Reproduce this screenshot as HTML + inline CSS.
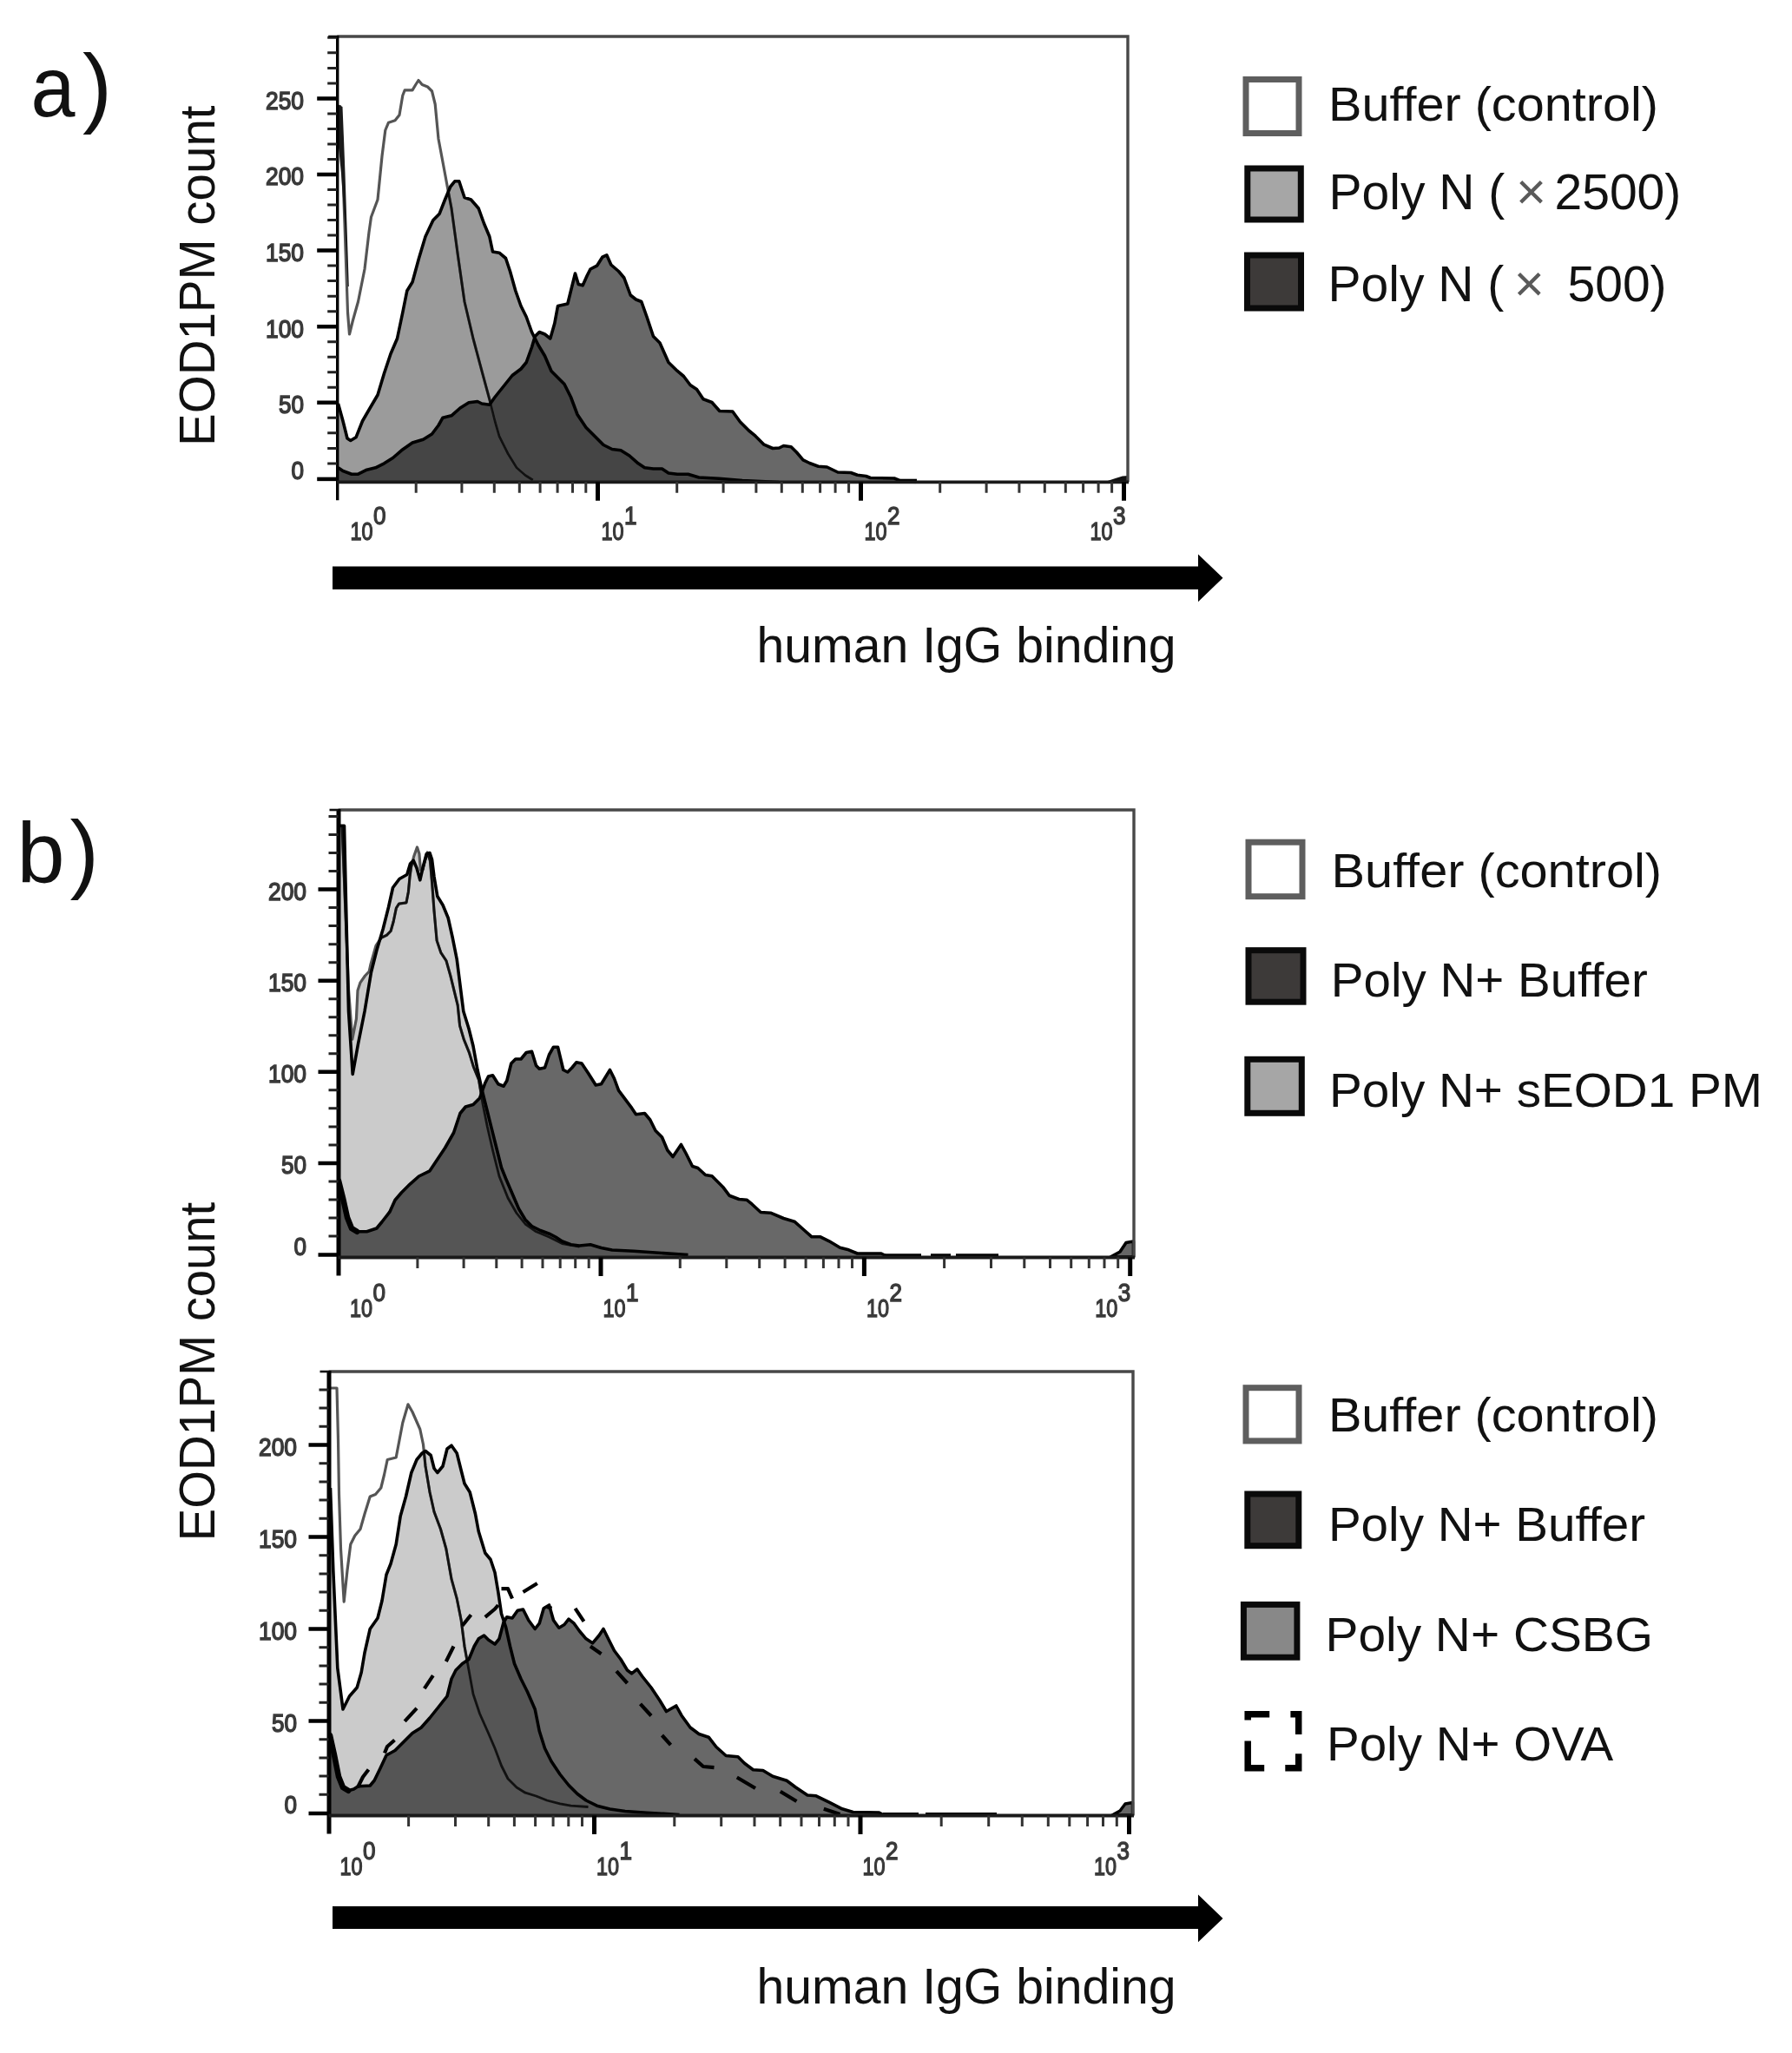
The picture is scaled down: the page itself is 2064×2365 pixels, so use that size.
<!DOCTYPE html>
<html lang="en"><head><meta charset="utf-8"><title>Figure</title>
<style>
html,body{margin:0;padding:0;background:#fff;}
svg{display:block;filter:blur(0.6px);font-family:"Liberation Sans",Arial,Helvetica,sans-serif;}
text{white-space:pre;}
</style></head><body>
<svg width="2064" height="2365" viewBox="0 0 2064 2365">
<rect width="2064" height="2365" fill="#fff"/>

<g id="chart-a">
<clipPath id="clipd-a"><path d="M388.2,555.3 L389.5,538.8 L395.0,542.5 L405.0,546.2 L412.5,546.2 L422.5,541.2 L432.5,538.8 L442.5,533.8 L452.5,527.5 L462.5,518.8 L475.0,510.0 L487.5,506.2 L497.5,500.0 L505.0,490.0 L510.0,481.2 L520.0,478.8 L530.0,470.0 L540.0,463.8 L550.0,462.5 L555.0,465.0 L563.8,466.2 L570.0,457.5 L580.0,445.0 L590.0,432.5 L600.0,425.0 L606.2,417.5 L612.5,400.0 L616.2,387.5 L621.2,382.5 L627.5,385.0 L633.8,390.0 L638.8,372.5 L642.5,352.5 L653.8,350.0 L657.5,335.0 L662.5,315.0 L666.2,327.5 L671.2,328.8 L676.2,317.5 L680.0,310.0 L687.5,306.2 L693.8,296.2 L698.8,293.8 L703.8,305.0 L712.5,312.5 L718.8,320.0 L726.2,340.0 L732.5,345.0 L738.8,347.5 L745.0,365.0 L752.5,387.5 L760.0,395.0 L770.0,417.5 L780.0,427.2 L787.5,433.5 L795.0,443.5 L802.5,448.5 L810.0,459.8 L820.0,463.5 L828.8,473.5 L843.8,474.0 L852.5,486.0 L862.5,496.0 L870.0,502.2 L880.0,512.2 L890.0,516.5 L897.5,516.0 L902.5,513.5 L911.2,514.8 L917.5,521.0 L925.0,529.8 L932.5,533.5 L942.5,537.2 L952.5,538.0 L965.0,544.0 L980.0,544.5 L987.5,547.2 L997.5,548.5 L1002.5,550.5 L1030.0,551.0 L1037.5,554.0 L1055.0,555.3 L1055.0,555.3Z"/></clipPath>
<clipPath id="clipf-a"><rect x="388.2" y="42" width="910.8" height="515.3"/></clipPath>
<g clip-path="url(#clipf-a)">
<path d="M388.2,555.3 L389.5,465.0 L395.0,485.0 L400.0,505.0 L403.8,507.5 L410.0,503.8 L417.5,485.0 L426.2,470.0 L435.0,455.0 L442.5,430.0 L450.0,407.5 L457.5,390.0 L463.8,360.0 L468.8,335.0 L475.0,325.0 L482.5,297.5 L490.0,272.5 L498.8,253.8 L506.2,246.2 L512.5,230.0 L518.8,215.0 L523.8,208.8 L528.8,208.8 L532.5,220.0 L535.0,227.5 L542.5,230.0 L551.2,240.0 L557.5,257.5 L563.8,272.5 L567.5,290.0 L575.0,291.2 L582.5,297.5 L587.5,312.5 L593.8,335.0 L600.0,352.5 L606.2,365.0 L612.5,382.5 L616.2,390.0 L620.0,397.5 L627.5,410.0 L635.0,427.5 L642.5,435.0 L650.0,442.5 L657.5,457.5 L665.0,477.5 L675.0,492.5 L685.0,502.5 L695.0,512.5 L705.0,517.5 L715.0,518.8 L725.0,525.0 L735.0,533.8 L742.5,538.8 L752.5,540.0 L762.5,540.0 L770.0,545.0 L780.0,546.2 L792.5,546.2 L805.0,550.0 L828.0,551.2 L855.0,553.5 L897.5,555.3 L897.5,555.3Z" fill="#9b9b9b"/>
<path d="M388.2,555.3 L389.5,538.8 L395.0,542.5 L405.0,546.2 L412.5,546.2 L422.5,541.2 L432.5,538.8 L442.5,533.8 L452.5,527.5 L462.5,518.8 L475.0,510.0 L487.5,506.2 L497.5,500.0 L505.0,490.0 L510.0,481.2 L520.0,478.8 L530.0,470.0 L540.0,463.8 L550.0,462.5 L555.0,465.0 L563.8,466.2 L570.0,457.5 L580.0,445.0 L590.0,432.5 L600.0,425.0 L606.2,417.5 L612.5,400.0 L616.2,387.5 L621.2,382.5 L627.5,385.0 L633.8,390.0 L638.8,372.5 L642.5,352.5 L653.8,350.0 L657.5,335.0 L662.5,315.0 L666.2,327.5 L671.2,328.8 L676.2,317.5 L680.0,310.0 L687.5,306.2 L693.8,296.2 L698.8,293.8 L703.8,305.0 L712.5,312.5 L718.8,320.0 L726.2,340.0 L732.5,345.0 L738.8,347.5 L745.0,365.0 L752.5,387.5 L760.0,395.0 L770.0,417.5 L780.0,427.2 L787.5,433.5 L795.0,443.5 L802.5,448.5 L810.0,459.8 L820.0,463.5 L828.8,473.5 L843.8,474.0 L852.5,486.0 L862.5,496.0 L870.0,502.2 L880.0,512.2 L890.0,516.5 L897.5,516.0 L902.5,513.5 L911.2,514.8 L917.5,521.0 L925.0,529.8 L932.5,533.5 L942.5,537.2 L952.5,538.0 L965.0,544.0 L980.0,544.5 L987.5,547.2 L997.5,548.5 L1002.5,550.5 L1030.0,551.0 L1037.5,554.0 L1055.0,555.3 L1055.0,555.3Z" fill="#686868"/>
<path d="M388.2,555.3 L389.5,465.0 L395.0,485.0 L400.0,505.0 L403.8,507.5 L410.0,503.8 L417.5,485.0 L426.2,470.0 L435.0,455.0 L442.5,430.0 L450.0,407.5 L457.5,390.0 L463.8,360.0 L468.8,335.0 L475.0,325.0 L482.5,297.5 L490.0,272.5 L498.8,253.8 L506.2,246.2 L512.5,230.0 L518.8,215.0 L523.8,208.8 L528.8,208.8 L532.5,220.0 L535.0,227.5 L542.5,230.0 L551.2,240.0 L557.5,257.5 L563.8,272.5 L567.5,290.0 L575.0,291.2 L582.5,297.5 L587.5,312.5 L593.8,335.0 L600.0,352.5 L606.2,365.0 L612.5,382.5 L616.2,390.0 L620.0,397.5 L627.5,410.0 L635.0,427.5 L642.5,435.0 L650.0,442.5 L657.5,457.5 L665.0,477.5 L675.0,492.5 L685.0,502.5 L695.0,512.5 L705.0,517.5 L715.0,518.8 L725.0,525.0 L735.0,533.8 L742.5,538.8 L752.5,540.0 L762.5,540.0 L770.0,545.0 L780.0,546.2 L792.5,546.2 L805.0,550.0 L828.0,551.2 L855.0,553.5 L897.5,555.3 L897.5,555.3Z" fill="#454545" clip-path="url(#clipd-a)"/>
<clipPath id="clipu-a"><path d="M388.2,555.3 L389.5,538.8 L395.0,542.5 L405.0,546.2 L412.5,546.2 L422.5,541.2 L432.5,538.8 L442.5,533.8 L452.5,527.5 L462.5,518.8 L475.0,510.0 L487.5,506.2 L497.5,500.0 L505.0,490.0 L510.0,481.2 L520.0,478.8 L530.0,470.0 L540.0,463.8 L550.0,462.5 L555.0,465.0 L563.8,466.2 L570.0,457.5 L580.0,445.0 L590.0,432.5 L600.0,425.0 L606.2,417.5 L612.5,400.0 L616.2,387.5 L621.2,382.5 L627.5,385.0 L633.8,390.0 L638.8,372.5 L642.5,352.5 L653.8,350.0 L657.5,335.0 L662.5,315.0 L666.2,327.5 L671.2,328.8 L676.2,317.5 L680.0,310.0 L687.5,306.2 L693.8,296.2 L698.8,293.8 L703.8,305.0 L712.5,312.5 L718.8,320.0 L726.2,340.0 L732.5,345.0 L738.8,347.5 L745.0,365.0 L752.5,387.5 L760.0,395.0 L770.0,417.5 L780.0,427.2 L787.5,433.5 L795.0,443.5 L802.5,448.5 L810.0,459.8 L820.0,463.5 L828.8,473.5 L843.8,474.0 L852.5,486.0 L862.5,496.0 L870.0,502.2 L880.0,512.2 L890.0,516.5 L897.5,516.0 L902.5,513.5 L911.2,514.8 L917.5,521.0 L925.0,529.8 L932.5,533.5 L942.5,537.2 L952.5,538.0 L965.0,544.0 L980.0,544.5 L987.5,547.2 L997.5,548.5 L1002.5,550.5 L1030.0,551.0 L1037.5,554.0 L1055.0,555.3 L1055.0,555.3Z"/><path d="M388.2,555.3 L389.5,465.0 L395.0,485.0 L400.0,505.0 L403.8,507.5 L410.0,503.8 L417.5,485.0 L426.2,470.0 L435.0,455.0 L442.5,430.0 L450.0,407.5 L457.5,390.0 L463.8,360.0 L468.8,335.0 L475.0,325.0 L482.5,297.5 L490.0,272.5 L498.8,253.8 L506.2,246.2 L512.5,230.0 L518.8,215.0 L523.8,208.8 L528.8,208.8 L532.5,220.0 L535.0,227.5 L542.5,230.0 L551.2,240.0 L557.5,257.5 L563.8,272.5 L567.5,290.0 L575.0,291.2 L582.5,297.5 L587.5,312.5 L593.8,335.0 L600.0,352.5 L606.2,365.0 L612.5,382.5 L616.2,390.0 L620.0,397.5 L627.5,410.0 L635.0,427.5 L642.5,435.0 L650.0,442.5 L657.5,457.5 L665.0,477.5 L675.0,492.5 L685.0,502.5 L695.0,512.5 L705.0,517.5 L715.0,518.8 L725.0,525.0 L735.0,533.8 L742.5,538.8 L752.5,540.0 L762.5,540.0 L770.0,545.0 L780.0,546.2 L792.5,546.2 L805.0,550.0 L828.0,551.2 L855.0,553.5 L897.5,555.3 L897.5,555.3Z"/></clipPath>
<path d="M391.2,121.2 L393.8,160.0 L396.2,235.0 L398.8,310.0 L400.5,360.0 L402.5,385.0 L406.2,370.0 L412.5,347.5 L420.0,310.0 L425.0,267.5 L427.5,250.0 L435.0,230.0 L440.0,180.0 L443.8,150.0 L447.5,141.2 L455.0,138.8 L460.0,132.5 L463.8,110.0 L466.2,103.8 L475.0,103.8 L478.8,97.5 L482.0,92.5 L486.2,97.5 L492.5,100.0 L497.5,105.0 L501.2,120.0 L505.0,160.0 L512.5,200.0 L516.2,220.0 L520.0,240.0 L527.5,295.0 L535.0,347.5 L545.0,390.0 L555.0,427.5 L563.8,460.0 L570.0,485.0 L575.0,502.5 L585.0,522.5 L595.0,538.8 L605.0,547.5 L613.8,553.0" fill="none" stroke="#555" stroke-width="3.2" stroke-linejoin="round"/>
<path d="M391.2,121.2 L393.8,160.0 L396.2,235.0 L398.8,310.0 L400.5,360.0 L402.5,385.0 L406.2,370.0 L412.5,347.5 L420.0,310.0 L425.0,267.5 L427.5,250.0 L435.0,230.0 L440.0,180.0 L443.8,150.0 L447.5,141.2 L455.0,138.8 L460.0,132.5 L463.8,110.0 L466.2,103.8 L475.0,103.8 L478.8,97.5 L482.0,92.5 L486.2,97.5 L492.5,100.0 L497.5,105.0 L501.2,120.0 L505.0,160.0 L512.5,200.0 L516.2,220.0 L520.0,240.0 L527.5,295.0 L535.0,347.5 L545.0,390.0 L555.0,427.5 L563.8,460.0 L570.0,485.0 L575.0,502.5 L585.0,522.5 L595.0,538.8 L605.0,547.5 L613.8,553.0" fill="none" stroke="#111" stroke-width="2.8" stroke-linejoin="round" clip-path="url(#clipu-a)"/>
<path d="M389.5,538.8 L395.0,542.5 L405.0,546.2 L412.5,546.2 L422.5,541.2 L432.5,538.8 L442.5,533.8 L452.5,527.5 L462.5,518.8 L475.0,510.0 L487.5,506.2 L497.5,500.0 L505.0,490.0 L510.0,481.2 L520.0,478.8 L530.0,470.0 L540.0,463.8 L550.0,462.5 L555.0,465.0 L563.8,466.2 L570.0,457.5 L580.0,445.0 L590.0,432.5 L600.0,425.0 L606.2,417.5 L612.5,400.0 L616.2,387.5 L621.2,382.5 L627.5,385.0 L633.8,390.0 L638.8,372.5 L642.5,352.5 L653.8,350.0 L657.5,335.0 L662.5,315.0 L666.2,327.5 L671.2,328.8 L676.2,317.5 L680.0,310.0 L687.5,306.2 L693.8,296.2 L698.8,293.8 L703.8,305.0 L712.5,312.5 L718.8,320.0 L726.2,340.0 L732.5,345.0 L738.8,347.5 L745.0,365.0 L752.5,387.5 L760.0,395.0 L770.0,417.5 L780.0,427.2 L787.5,433.5 L795.0,443.5 L802.5,448.5 L810.0,459.8 L820.0,463.5 L828.8,473.5 L843.8,474.0 L852.5,486.0 L862.5,496.0 L870.0,502.2 L880.0,512.2 L890.0,516.5 L897.5,516.0 L902.5,513.5 L911.2,514.8 L917.5,521.0 L925.0,529.8 L932.5,533.5 L942.5,537.2 L952.5,538.0 L965.0,544.0 L980.0,544.5 L987.5,547.2 L997.5,548.5 L1002.5,550.5 L1030.0,551.0 L1037.5,554.0 L1055.0,555.5" fill="none" stroke="#000" stroke-width="3.6" stroke-linejoin="round"/>
<path d="M389.5,465.0 L395.0,485.0 L400.0,505.0 L403.8,507.5 L410.0,503.8 L417.5,485.0 L426.2,470.0 L435.0,455.0 L442.5,430.0 L450.0,407.5 L457.5,390.0 L463.8,360.0 L468.8,335.0 L475.0,325.0 L482.5,297.5 L490.0,272.5 L498.8,253.8 L506.2,246.2 L512.5,230.0 L518.8,215.0 L523.8,208.8 L528.8,208.8 L532.5,220.0 L535.0,227.5 L542.5,230.0 L551.2,240.0 L557.5,257.5 L563.8,272.5 L567.5,290.0 L575.0,291.2 L582.5,297.5 L587.5,312.5 L593.8,335.0 L600.0,352.5 L606.2,365.0 L612.5,382.5 L616.2,390.0 L620.0,397.5 L627.5,410.0 L635.0,427.5 L642.5,435.0 L650.0,442.5 L657.5,457.5 L665.0,477.5 L675.0,492.5 L685.0,502.5 L695.0,512.5 L705.0,517.5 L715.0,518.8 L725.0,525.0 L735.0,533.8 L742.5,538.8 L752.5,540.0 L762.5,540.0 L770.0,545.0 L780.0,546.2 L792.5,546.2 L805.0,550.0 L828.0,551.2 L855.0,553.5 L897.5,555.5" fill="none" stroke="#000" stroke-width="3.6" stroke-linejoin="round"/>
</g>
<path d="M389,120 L394.5,123 L396,160 L397.5,200 L399.5,260 L401.8,330 L400.6,330 L397.2,260 L393,200 L389,160 Z" fill="#1a1a1a"/><path d="M1276,555 L1285,552 L1293,549.5 L1299,549 V555 Z" fill="#111" stroke="#111" stroke-width="2"/><path d="M1037,553.5 H1056" stroke="#000" stroke-width="3.6"/>
<path d="M388.2,42 H1299 V555.3" fill="none" stroke="#484848" stroke-width="3.4"/>
<path d="M388.7,41 V576.3" fill="none" stroke="#000" stroke-width="3.4"/>
<path d="M365.2,551.9 H388.2" fill="none" stroke="#000" stroke-width="4.5"/>
<path d="M388.2,555.3 H1300" fill="none" stroke="#1a1a1a" stroke-width="3.8"/>
<path d="M377.2,533.9 H388.2 M377.2,516.4 H388.2 M377.2,498.8 H388.2 M377.2,481.3 H388.2 M377.2,446.3 H388.2 M377.2,428.8 H388.2 M377.2,411.2 H388.2 M377.2,393.7 H388.2 M377.2,358.7 H388.2 M377.2,341.2 H388.2 M377.2,323.6 H388.2 M377.2,306.1 H388.2 M377.2,271.1 H388.2 M377.2,253.6 H388.2 M377.2,236.0 H388.2 M377.2,218.5 H388.2 M377.2,183.5 H388.2 M377.2,166.0 H388.2 M377.2,148.4 H388.2 M377.2,130.9 H388.2 M377.2,95.9 H388.2 M377.2,78.4 H388.2 M377.2,60.8 H388.2 M377.2,43.3 H388.2 " stroke="#222" stroke-width="3" fill="none"/>
<path d="M365.2,463.8 H388.2 M365.2,376.2 H388.2 M365.2,288.6 H388.2 M365.2,201.0 H388.2 M365.2,113.4 H388.2 " stroke="#000" stroke-width="4.5" fill="none"/>
<path d="M378.2,42 H388.2" stroke="#111" stroke-width="2.6" fill="none"/>
<text x="350" y="551.9" font-size="29.5" text-anchor="end" textLength="14.5" lengthAdjust="spacingAndGlyphs" fill="#3a3a3a" stroke="#3a3a3a" stroke-width="1.5">0</text>
<text x="350" y="476.1" font-size="29.5" text-anchor="end" textLength="29" lengthAdjust="spacingAndGlyphs" fill="#3a3a3a" stroke="#3a3a3a" stroke-width="1.5">50</text>
<text x="350" y="388.5" font-size="29.5" text-anchor="end" textLength="44" lengthAdjust="spacingAndGlyphs" fill="#3a3a3a" stroke="#3a3a3a" stroke-width="1.5">100</text>
<text x="350" y="300.9" font-size="29.5" text-anchor="end" textLength="44" lengthAdjust="spacingAndGlyphs" fill="#3a3a3a" stroke="#3a3a3a" stroke-width="1.5">150</text>
<text x="350" y="213.3" font-size="29.5" text-anchor="end" textLength="44" lengthAdjust="spacingAndGlyphs" fill="#3a3a3a" stroke="#3a3a3a" stroke-width="1.5">200</text>
<text x="350" y="125.7" font-size="29.5" text-anchor="end" textLength="44" lengthAdjust="spacingAndGlyphs" fill="#3a3a3a" stroke="#3a3a3a" stroke-width="1.5">250</text>
<path d="M479.2,555.3 V567.8 M531.9,555.3 V567.8 M569.3,555.3 V567.8 M598.3,555.3 V567.8 M622.1,555.3 V567.8 M642.1,555.3 V567.8 M659.5,555.3 V567.8 M674.8,555.3 V567.8 M779.7,555.3 V567.8 M833.1,555.3 V567.8 M870.9,555.3 V567.8 M900.3,555.3 V567.8 M924.3,555.3 V567.8 M944.6,555.3 V567.8 M962.1,555.3 V567.8 M977.6,555.3 V567.8 M1082.7,555.3 V567.8 M1136.1,555.3 V567.8 M1173.9,555.3 V567.8 M1203.3,555.3 V567.8 M1227.3,555.3 V567.8 M1247.6,555.3 V567.8 M1265.1,555.3 V567.8 M1280.6,555.3 V567.8 " stroke="#333" stroke-width="3" fill="none"/>
<path d="M688.5,555.3 V576.8 M991.5,555.3 V576.8 M1294.5,555.3 V576.8 " stroke="#000" stroke-width="5" fill="none"/>
<g transform="translate(403.5,622.3)" fill="#3a3a3a" stroke="#3a3a3a" stroke-width="1.4"><text x="0" y="0" font-size="30" textLength="26" lengthAdjust="spacingAndGlyphs">10</text><text x="26.5" y="-18.5" font-size="30" textLength="14.5" lengthAdjust="spacingAndGlyphs">0</text></g>
<g transform="translate(692.5,622.3)" fill="#3a3a3a" stroke="#3a3a3a" stroke-width="1.4"><text x="0" y="0" font-size="30" textLength="26" lengthAdjust="spacingAndGlyphs">10</text><text x="26.5" y="-18.5" font-size="30" textLength="14.5" lengthAdjust="spacingAndGlyphs">1</text></g>
<g transform="translate(995.5,622.3)" fill="#3a3a3a" stroke="#3a3a3a" stroke-width="1.4"><text x="0" y="0" font-size="30" textLength="26" lengthAdjust="spacingAndGlyphs">10</text><text x="26.5" y="-18.5" font-size="30" textLength="14.5" lengthAdjust="spacingAndGlyphs">2</text></g>
<g transform="translate(1255.5,622.3)" fill="#3a3a3a" stroke="#3a3a3a" stroke-width="1.4"><text x="0" y="0" font-size="30" textLength="26" lengthAdjust="spacingAndGlyphs">10</text><text x="26.5" y="-18.5" font-size="30" textLength="14.5" lengthAdjust="spacingAndGlyphs">3</text></g>
</g>
<g id="chart-bt">
<clipPath id="clipd-bt"><path d="M389.5,1448.5 L390.0,1360.0 L395.0,1380.0 L400.0,1402.5 L405.0,1415.0 L411.2,1418.8 L422.5,1418.8 L433.8,1415.0 L440.0,1407.5 L448.8,1396.2 L455.0,1382.5 L462.5,1373.8 L472.5,1363.8 L482.5,1355.0 L495.0,1348.8 L502.5,1337.5 L512.5,1322.5 L522.5,1305.0 L530.0,1282.5 L536.2,1275.0 L545.0,1272.5 L552.5,1265.0 L558.8,1247.5 L562.5,1240.0 L567.5,1238.8 L573.8,1248.8 L580.0,1251.2 L583.8,1245.0 L588.8,1225.0 L593.8,1220.0 L600.0,1220.0 L606.2,1212.5 L612.5,1211.2 L617.5,1227.5 L621.2,1231.2 L627.5,1230.0 L632.5,1215.0 L637.5,1206.2 L642.5,1206.2 L648.8,1232.5 L653.8,1235.0 L658.8,1230.0 L663.8,1223.8 L670.0,1225.0 L677.5,1236.2 L686.2,1250.0 L692.5,1248.8 L702.5,1232.5 L707.5,1242.5 L712.5,1256.2 L720.0,1266.2 L727.5,1276.2 L732.5,1283.8 L742.5,1282.5 L748.8,1290.0 L755.0,1302.5 L762.5,1310.0 L768.8,1325.0 L775.0,1332.5 L784.5,1318.5 L790.0,1328.5 L797.5,1343.5 L803.8,1345.5 L812.5,1353.5 L820.0,1354.8 L832.5,1367.2 L840.0,1377.2 L851.2,1381.5 L860.0,1382.2 L866.2,1387.2 L876.2,1396.5 L887.5,1397.2 L902.5,1403.5 L915.0,1407.2 L925.0,1416.0 L935.0,1424.8 L945.0,1424.8 L955.0,1429.8 L967.5,1437.2 L977.5,1439.8 L987.5,1444.0 L1015.0,1444.0 L1020.0,1446.5 L1060.0,1447.0 L1060.0,1448.5Z"/></clipPath>
<clipPath id="clipf-bt"><rect x="389.5" y="933" width="916.5" height="517.5"/></clipPath>
<g clip-path="url(#clipf-bt)">
<path d="M389.5,1448.5 L391.5,951.2 L396.5,951.2 L398.5,1040.0 L401.5,1165.0 L406.2,1237.5 L412.5,1202.5 L420.0,1165.0 L427.5,1120.0 L433.8,1095.0 L441.2,1070.0 L447.5,1045.0 L452.5,1022.5 L460.0,1012.5 L468.8,1007.5 L472.5,995.0 L476.2,991.2 L480.0,1000.0 L483.8,1013.8 L487.5,997.5 L491.2,983.8 L495.0,982.5 L497.5,990.0 L500.0,1010.0 L503.8,1032.5 L510.0,1042.5 L516.2,1057.5 L521.2,1080.0 L526.2,1105.0 L530.0,1135.0 L533.8,1165.0 L540.0,1185.0 L545.0,1205.0 L550.0,1232.5 L555.0,1255.0 L560.0,1275.0 L566.2,1300.0 L572.5,1325.0 L577.5,1345.0 L582.5,1357.5 L590.0,1375.0 L597.5,1392.5 L605.0,1405.0 L612.5,1412.5 L622.5,1417.5 L632.5,1421.2 L640.0,1425.0 L647.5,1430.0 L657.5,1433.8 L667.5,1435.0 L680.0,1433.8 L692.5,1437.5 L705.0,1440.0 L730.0,1441.2 L755.0,1443.0 L792.5,1445.5 L792.5,1448.5Z" fill="#cbcbcb"/>
<path d="M389.5,1448.5 L394.0,951.2 L397.5,1040.0 L401.5,1140.0 L405.8,1197.2 L410.4,1173.8 L412.0,1141.0 L415.0,1131.8 L420.5,1124.0 L425.2,1119.2 L426.8,1111.5 L433.0,1089.5 L439.2,1080.2 L445.5,1077.2 L450.1,1072.5 L453.2,1061.5 L456.4,1046.0 L459.5,1041.2 L468.0,1039.8 L470.4,1027.2 L472.0,1010.1 L473.5,999.2 L476.6,986.8 L480.5,975.9 L482.9,983.6 L484.4,1002.2 L486.8,1002.2 L489.1,993.0 L492.2,982.0 L495.4,991.5 L497.7,1018.0 L500.0,1049.1 L503.1,1083.4 L507.8,1097.4 L514.0,1106.8 L518.8,1123.9 L523.4,1142.7 L527.2,1158.2 L529.6,1181.6 L534.2,1197.2 L540.5,1212.8 L545.2,1228.4 L551.5,1244.0 L556.2,1272.5 L561.2,1297.5 L567.5,1325.0 L575.0,1355.0 L585.0,1380.0 L595.0,1397.5 L605.0,1410.0 L617.5,1418.8 L632.5,1425.0 L647.5,1432.5 L667.5,1436.2 L667.5,1448.5Z" fill="#cbcbcb"/>
<path d="M389.5,1448.5 L390.0,1360.0 L395.0,1380.0 L400.0,1402.5 L405.0,1415.0 L411.2,1418.8 L422.5,1418.8 L433.8,1415.0 L440.0,1407.5 L448.8,1396.2 L455.0,1382.5 L462.5,1373.8 L472.5,1363.8 L482.5,1355.0 L495.0,1348.8 L502.5,1337.5 L512.5,1322.5 L522.5,1305.0 L530.0,1282.5 L536.2,1275.0 L545.0,1272.5 L552.5,1265.0 L558.8,1247.5 L562.5,1240.0 L567.5,1238.8 L573.8,1248.8 L580.0,1251.2 L583.8,1245.0 L588.8,1225.0 L593.8,1220.0 L600.0,1220.0 L606.2,1212.5 L612.5,1211.2 L617.5,1227.5 L621.2,1231.2 L627.5,1230.0 L632.5,1215.0 L637.5,1206.2 L642.5,1206.2 L648.8,1232.5 L653.8,1235.0 L658.8,1230.0 L663.8,1223.8 L670.0,1225.0 L677.5,1236.2 L686.2,1250.0 L692.5,1248.8 L702.5,1232.5 L707.5,1242.5 L712.5,1256.2 L720.0,1266.2 L727.5,1276.2 L732.5,1283.8 L742.5,1282.5 L748.8,1290.0 L755.0,1302.5 L762.5,1310.0 L768.8,1325.0 L775.0,1332.5 L784.5,1318.5 L790.0,1328.5 L797.5,1343.5 L803.8,1345.5 L812.5,1353.5 L820.0,1354.8 L832.5,1367.2 L840.0,1377.2 L851.2,1381.5 L860.0,1382.2 L866.2,1387.2 L876.2,1396.5 L887.5,1397.2 L902.5,1403.5 L915.0,1407.2 L925.0,1416.0 L935.0,1424.8 L945.0,1424.8 L955.0,1429.8 L967.5,1437.2 L977.5,1439.8 L987.5,1444.0 L1015.0,1444.0 L1020.0,1446.5 L1060.0,1447.0 L1060.0,1448.5Z" fill="#686868"/>
<path d="M389.5,1448.5 L391.5,951.2 L396.5,951.2 L398.5,1040.0 L401.5,1165.0 L406.2,1237.5 L412.5,1202.5 L420.0,1165.0 L427.5,1120.0 L433.8,1095.0 L441.2,1070.0 L447.5,1045.0 L452.5,1022.5 L460.0,1012.5 L468.8,1007.5 L472.5,995.0 L476.2,991.2 L480.0,1000.0 L483.8,1013.8 L487.5,997.5 L491.2,983.8 L495.0,982.5 L497.5,990.0 L500.0,1010.0 L503.8,1032.5 L510.0,1042.5 L516.2,1057.5 L521.2,1080.0 L526.2,1105.0 L530.0,1135.0 L533.8,1165.0 L540.0,1185.0 L545.0,1205.0 L550.0,1232.5 L555.0,1255.0 L560.0,1275.0 L566.2,1300.0 L572.5,1325.0 L577.5,1345.0 L582.5,1357.5 L590.0,1375.0 L597.5,1392.5 L605.0,1405.0 L612.5,1412.5 L622.5,1417.5 L632.5,1421.2 L640.0,1425.0 L647.5,1430.0 L657.5,1433.8 L667.5,1435.0 L680.0,1433.8 L692.5,1437.5 L705.0,1440.0 L730.0,1441.2 L755.0,1443.0 L792.5,1445.5 L792.5,1448.5Z" fill="#555" clip-path="url(#clipd-bt)"/>
<clipPath id="clipu-bt"><path d="M389.5,1448.5 L390.0,1360.0 L395.0,1380.0 L400.0,1402.5 L405.0,1415.0 L411.2,1418.8 L422.5,1418.8 L433.8,1415.0 L440.0,1407.5 L448.8,1396.2 L455.0,1382.5 L462.5,1373.8 L472.5,1363.8 L482.5,1355.0 L495.0,1348.8 L502.5,1337.5 L512.5,1322.5 L522.5,1305.0 L530.0,1282.5 L536.2,1275.0 L545.0,1272.5 L552.5,1265.0 L558.8,1247.5 L562.5,1240.0 L567.5,1238.8 L573.8,1248.8 L580.0,1251.2 L583.8,1245.0 L588.8,1225.0 L593.8,1220.0 L600.0,1220.0 L606.2,1212.5 L612.5,1211.2 L617.5,1227.5 L621.2,1231.2 L627.5,1230.0 L632.5,1215.0 L637.5,1206.2 L642.5,1206.2 L648.8,1232.5 L653.8,1235.0 L658.8,1230.0 L663.8,1223.8 L670.0,1225.0 L677.5,1236.2 L686.2,1250.0 L692.5,1248.8 L702.5,1232.5 L707.5,1242.5 L712.5,1256.2 L720.0,1266.2 L727.5,1276.2 L732.5,1283.8 L742.5,1282.5 L748.8,1290.0 L755.0,1302.5 L762.5,1310.0 L768.8,1325.0 L775.0,1332.5 L784.5,1318.5 L790.0,1328.5 L797.5,1343.5 L803.8,1345.5 L812.5,1353.5 L820.0,1354.8 L832.5,1367.2 L840.0,1377.2 L851.2,1381.5 L860.0,1382.2 L866.2,1387.2 L876.2,1396.5 L887.5,1397.2 L902.5,1403.5 L915.0,1407.2 L925.0,1416.0 L935.0,1424.8 L945.0,1424.8 L955.0,1429.8 L967.5,1437.2 L977.5,1439.8 L987.5,1444.0 L1015.0,1444.0 L1020.0,1446.5 L1060.0,1447.0 L1060.0,1448.5Z"/><path d="M389.5,1448.5 L391.5,951.2 L396.5,951.2 L398.5,1040.0 L401.5,1165.0 L406.2,1237.5 L412.5,1202.5 L420.0,1165.0 L427.5,1120.0 L433.8,1095.0 L441.2,1070.0 L447.5,1045.0 L452.5,1022.5 L460.0,1012.5 L468.8,1007.5 L472.5,995.0 L476.2,991.2 L480.0,1000.0 L483.8,1013.8 L487.5,997.5 L491.2,983.8 L495.0,982.5 L497.5,990.0 L500.0,1010.0 L503.8,1032.5 L510.0,1042.5 L516.2,1057.5 L521.2,1080.0 L526.2,1105.0 L530.0,1135.0 L533.8,1165.0 L540.0,1185.0 L545.0,1205.0 L550.0,1232.5 L555.0,1255.0 L560.0,1275.0 L566.2,1300.0 L572.5,1325.0 L577.5,1345.0 L582.5,1357.5 L590.0,1375.0 L597.5,1392.5 L605.0,1405.0 L612.5,1412.5 L622.5,1417.5 L632.5,1421.2 L640.0,1425.0 L647.5,1430.0 L657.5,1433.8 L667.5,1435.0 L680.0,1433.8 L692.5,1437.5 L705.0,1440.0 L730.0,1441.2 L755.0,1443.0 L792.5,1445.5 L792.5,1448.5Z"/></clipPath>
<path d="M394.0,951.2 L397.5,1040.0 L401.5,1140.0 L405.8,1197.2 L410.4,1173.8 L412.0,1141.0 L415.0,1131.8 L420.5,1124.0 L425.2,1119.2 L426.8,1111.5 L433.0,1089.5 L439.2,1080.2 L445.5,1077.2 L450.1,1072.5 L453.2,1061.5 L456.4,1046.0 L459.5,1041.2 L468.0,1039.8 L470.4,1027.2 L472.0,1010.1 L473.5,999.2 L476.6,986.8 L480.5,975.9 L482.9,983.6 L484.4,1002.2 L486.8,1002.2 L489.1,993.0 L492.2,982.0 L495.4,991.5 L497.7,1018.0 L500.0,1049.1 L503.1,1083.4 L507.8,1097.4 L514.0,1106.8 L518.8,1123.9 L523.4,1142.7 L527.2,1158.2 L529.6,1181.6 L534.2,1197.2 L540.5,1212.8 L545.2,1228.4 L551.5,1244.0 L556.2,1272.5 L561.2,1297.5 L567.5,1325.0 L575.0,1355.0 L585.0,1380.0 L595.0,1397.5 L605.0,1410.0 L617.5,1418.8 L632.5,1425.0 L647.5,1432.5 L667.5,1436.2" fill="none" stroke="#555" stroke-width="3.2" stroke-linejoin="round"/>
<path d="M394.0,951.2 L397.5,1040.0 L401.5,1140.0 L405.8,1197.2 L410.4,1173.8 L412.0,1141.0 L415.0,1131.8 L420.5,1124.0 L425.2,1119.2 L426.8,1111.5 L433.0,1089.5 L439.2,1080.2 L445.5,1077.2 L450.1,1072.5 L453.2,1061.5 L456.4,1046.0 L459.5,1041.2 L468.0,1039.8 L470.4,1027.2 L472.0,1010.1 L473.5,999.2 L476.6,986.8 L480.5,975.9 L482.9,983.6 L484.4,1002.2 L486.8,1002.2 L489.1,993.0 L492.2,982.0 L495.4,991.5 L497.7,1018.0 L500.0,1049.1 L503.1,1083.4 L507.8,1097.4 L514.0,1106.8 L518.8,1123.9 L523.4,1142.7 L527.2,1158.2 L529.6,1181.6 L534.2,1197.2 L540.5,1212.8 L545.2,1228.4 L551.5,1244.0 L556.2,1272.5 L561.2,1297.5 L567.5,1325.0 L575.0,1355.0 L585.0,1380.0 L595.0,1397.5 L605.0,1410.0 L617.5,1418.8 L632.5,1425.0 L647.5,1432.5 L667.5,1436.2" fill="none" stroke="#111" stroke-width="2.8" stroke-linejoin="round" clip-path="url(#clipu-bt)"/>
<path d="M390.0,1360.0 L395.0,1380.0 L400.0,1402.5 L405.0,1415.0 L411.2,1418.8 L422.5,1418.8 L433.8,1415.0 L440.0,1407.5 L448.8,1396.2 L455.0,1382.5 L462.5,1373.8 L472.5,1363.8 L482.5,1355.0 L495.0,1348.8 L502.5,1337.5 L512.5,1322.5 L522.5,1305.0 L530.0,1282.5 L536.2,1275.0 L545.0,1272.5 L552.5,1265.0 L558.8,1247.5 L562.5,1240.0 L567.5,1238.8 L573.8,1248.8 L580.0,1251.2 L583.8,1245.0 L588.8,1225.0 L593.8,1220.0 L600.0,1220.0 L606.2,1212.5 L612.5,1211.2 L617.5,1227.5 L621.2,1231.2 L627.5,1230.0 L632.5,1215.0 L637.5,1206.2 L642.5,1206.2 L648.8,1232.5 L653.8,1235.0 L658.8,1230.0 L663.8,1223.8 L670.0,1225.0 L677.5,1236.2 L686.2,1250.0 L692.5,1248.8 L702.5,1232.5 L707.5,1242.5 L712.5,1256.2 L720.0,1266.2 L727.5,1276.2 L732.5,1283.8 L742.5,1282.5 L748.8,1290.0 L755.0,1302.5 L762.5,1310.0 L768.8,1325.0 L775.0,1332.5 L784.5,1318.5 L790.0,1328.5 L797.5,1343.5 L803.8,1345.5 L812.5,1353.5 L820.0,1354.8 L832.5,1367.2 L840.0,1377.2 L851.2,1381.5 L860.0,1382.2 L866.2,1387.2 L876.2,1396.5 L887.5,1397.2 L902.5,1403.5 L915.0,1407.2 L925.0,1416.0 L935.0,1424.8 L945.0,1424.8 L955.0,1429.8 L967.5,1437.2 L977.5,1439.8 L987.5,1444.0 L1015.0,1444.0 L1020.0,1446.5 L1060.0,1447.0" fill="none" stroke="#000" stroke-width="3.6" stroke-linejoin="round"/>
<path d="M391.5,951.2 L396.5,951.2 L398.5,1040.0 L401.5,1165.0 L406.2,1237.5 L412.5,1202.5 L420.0,1165.0 L427.5,1120.0 L433.8,1095.0 L441.2,1070.0 L447.5,1045.0 L452.5,1022.5 L460.0,1012.5 L468.8,1007.5 L472.5,995.0 L476.2,991.2 L480.0,1000.0 L483.8,1013.8 L487.5,997.5 L491.2,983.8 L495.0,982.5 L497.5,990.0 L500.0,1010.0 L503.8,1032.5 L510.0,1042.5 L516.2,1057.5 L521.2,1080.0 L526.2,1105.0 L530.0,1135.0 L533.8,1165.0 L540.0,1185.0 L545.0,1205.0 L550.0,1232.5 L555.0,1255.0 L560.0,1275.0 L566.2,1300.0 L572.5,1325.0 L577.5,1345.0 L582.5,1357.5 L590.0,1375.0 L597.5,1392.5 L605.0,1405.0 L612.5,1412.5 L622.5,1417.5 L632.5,1421.2 L640.0,1425.0 L647.5,1430.0 L657.5,1433.8 L667.5,1435.0 L680.0,1433.8 L692.5,1437.5 L705.0,1440.0 L730.0,1441.2 L755.0,1443.0 L792.5,1445.5" fill="none" stroke="#000" stroke-width="3.6" stroke-linejoin="round"/>
<path d="M390.0,1360.0 L395.0,1380.0 L400.0,1402.5 L405.0,1415.0 L411.2,1418.8" fill="none" stroke="#000" stroke-width="6.5" stroke-linejoin="round" stroke-linecap="round"/>
</g>
<path d="M1279,1448 L1290,1442 L1297,1431.5 L1305.5,1430 V1448 Z" fill="#666" stroke="#000" stroke-width="3.6" stroke-linejoin="round"/><path d="M1018,1446.3 H1061 M1072,1446.3 H1095 M1101,1446.3 H1150" stroke="#000" stroke-width="4"/>
<path d="M389.5,933 H1306 V1448.5" fill="none" stroke="#484848" stroke-width="3.4"/>
<path d="M390.0,932 V1469.5" fill="none" stroke="#000" stroke-width="5"/>
<path d="M366.5,1445.5 H389.5" fill="none" stroke="#000" stroke-width="4.5"/>
<path d="M389.5,1448.5 H1307" fill="none" stroke="#1a1a1a" stroke-width="3.8"/>
<path d="M378.5,1424.0 H389.5 M378.5,1403.0 H389.5 M378.5,1381.9 H389.5 M378.5,1360.9 H389.5 M378.5,1318.9 H389.5 M378.5,1297.9 H389.5 M378.5,1276.8 H389.5 M378.5,1255.8 H389.5 M378.5,1213.8 H389.5 M378.5,1192.8 H389.5 M378.5,1171.7 H389.5 M378.5,1150.7 H389.5 M378.5,1108.7 H389.5 M378.5,1087.7 H389.5 M378.5,1066.6 H389.5 M378.5,1045.6 H389.5 M378.5,1003.6 H389.5 M378.5,982.6 H389.5 M378.5,961.5 H389.5 M378.5,940.5 H389.5 " stroke="#222" stroke-width="3" fill="none"/>
<path d="M366.5,1339.9 H389.5 M366.5,1234.8 H389.5 M366.5,1129.7 H389.5 M366.5,1024.6 H389.5 " stroke="#000" stroke-width="4.5" fill="none"/>
<path d="M379.5,933 H389.5" stroke="#111" stroke-width="2.6" fill="none"/>
<text x="353" y="1445.5" font-size="29.5" text-anchor="end" textLength="14.5" lengthAdjust="spacingAndGlyphs" fill="#3a3a3a" stroke="#3a3a3a" stroke-width="1.5">0</text>
<text x="353" y="1352.2" font-size="29.5" text-anchor="end" textLength="29" lengthAdjust="spacingAndGlyphs" fill="#3a3a3a" stroke="#3a3a3a" stroke-width="1.5">50</text>
<text x="353" y="1247.1" font-size="29.5" text-anchor="end" textLength="44" lengthAdjust="spacingAndGlyphs" fill="#3a3a3a" stroke="#3a3a3a" stroke-width="1.5">100</text>
<text x="353" y="1142.0" font-size="29.5" text-anchor="end" textLength="44" lengthAdjust="spacingAndGlyphs" fill="#3a3a3a" stroke="#3a3a3a" stroke-width="1.5">150</text>
<text x="353" y="1036.9" font-size="29.5" text-anchor="end" textLength="44" lengthAdjust="spacingAndGlyphs" fill="#3a3a3a" stroke="#3a3a3a" stroke-width="1.5">200</text>
<path d="M480.9,1448.5 V1461.0 M534.1,1448.5 V1461.0 M571.8,1448.5 V1461.0 M601.1,1448.5 V1461.0 M625.0,1448.5 V1461.0 M645.2,1448.5 V1461.0 M662.7,1448.5 V1461.0 M678.2,1448.5 V1461.0 M783.3,1448.5 V1461.0 M836.8,1448.5 V1461.0 M874.7,1448.5 V1461.0 M904.1,1448.5 V1461.0 M928.1,1448.5 V1461.0 M948.4,1448.5 V1461.0 M966.0,1448.5 V1461.0 M981.5,1448.5 V1461.0 M1087.6,1448.5 V1461.0 M1141.5,1448.5 V1461.0 M1179.8,1448.5 V1461.0 M1209.5,1448.5 V1461.0 M1233.7,1448.5 V1461.0 M1254.3,1448.5 V1461.0 M1272.0,1448.5 V1461.0 M1287.7,1448.5 V1461.0 " stroke="#333" stroke-width="3" fill="none"/>
<path d="M692.0,1448.5 V1470.0 M995.4,1448.5 V1470.0 M1301.7,1448.5 V1470.0 " stroke="#000" stroke-width="5" fill="none"/>
<g transform="translate(403.0,1517.0)" fill="#3a3a3a" stroke="#3a3a3a" stroke-width="1.4"><text x="0" y="0" font-size="30" textLength="26" lengthAdjust="spacingAndGlyphs">10</text><text x="26.5" y="-18.5" font-size="30" textLength="14.5" lengthAdjust="spacingAndGlyphs">0</text></g>
<g transform="translate(694.5,1517.0)" fill="#3a3a3a" stroke="#3a3a3a" stroke-width="1.4"><text x="0" y="0" font-size="30" textLength="26" lengthAdjust="spacingAndGlyphs">10</text><text x="26.5" y="-18.5" font-size="30" textLength="14.5" lengthAdjust="spacingAndGlyphs">1</text></g>
<g transform="translate(997.9,1517.0)" fill="#3a3a3a" stroke="#3a3a3a" stroke-width="1.4"><text x="0" y="0" font-size="30" textLength="26" lengthAdjust="spacingAndGlyphs">10</text><text x="26.5" y="-18.5" font-size="30" textLength="14.5" lengthAdjust="spacingAndGlyphs">2</text></g>
<g transform="translate(1261.2,1517.0)" fill="#3a3a3a" stroke="#3a3a3a" stroke-width="1.4"><text x="0" y="0" font-size="30" textLength="26" lengthAdjust="spacingAndGlyphs">10</text><text x="26.5" y="-18.5" font-size="30" textLength="14.5" lengthAdjust="spacingAndGlyphs">3</text></g>
</g>
<g id="chart-bb">
<clipPath id="clipd-bb"><path d="M378.5,2091.5 L380.0,1999.0 L385.0,2021.5 L390.0,2046.5 L395.0,2059.0 L401.2,2062.8 L407.5,2061.0 L412.5,2057.8 L426.2,2057.0 L431.2,2051.0 L438.0,2037.0 L445.0,2022.0 L455.0,2016.5 L465.0,2006.5 L475.0,1996.5 L485.0,1990.2 L495.0,1979.0 L505.0,1966.5 L515.0,1954.0 L520.0,1934.0 L525.0,1924.0 L532.5,1916.5 L540.0,1911.5 L546.2,1896.5 L551.2,1887.8 L557.5,1884.0 L562.5,1889.0 L570.0,1894.0 L575.0,1887.8 L580.0,1869.0 L583.8,1862.8 L590.0,1864.0 L596.2,1855.2 L602.5,1854.0 L608.8,1866.5 L616.2,1876.5 L621.2,1870.2 L626.2,1852.8 L632.5,1849.0 L637.5,1866.5 L643.8,1875.2 L650.0,1871.5 L655.0,1865.2 L661.2,1870.2 L667.5,1879.0 L675.0,1887.8 L682.5,1892.8 L690.0,1884.0 L695.0,1876.5 L701.2,1889.0 L707.5,1901.5 L715.0,1911.5 L722.5,1924.0 L727.5,1927.8 L733.8,1922.8 L740.0,1931.5 L750.0,1944.0 L760.0,1959.0 L767.5,1971.5 L778.8,1965.0 L785.0,1976.2 L795.0,1990.0 L805.0,1997.5 L816.2,2001.2 L825.0,2012.5 L836.2,2022.5 L850.0,2023.8 L857.5,2031.2 L867.5,2038.8 L878.8,2039.5 L890.0,2046.2 L906.2,2051.2 L916.2,2058.8 L930.0,2068.0 L940.0,2068.8 L955.0,2076.2 L970.0,2083.8 L982.5,2087.5 L1012.5,2088.0 L1017.5,2090.8 L1057.5,2091.0 L1057.5,2091.5Z"/></clipPath>
<clipPath id="clipf-bb"><rect x="378.5" y="1580" width="926.5" height="513.5"/></clipPath>
<g clip-path="url(#clipf-bb)">
<path d="M378.5,2091.5 L380.5,1714.0 L383.8,1809.0 L388.8,1921.5 L395.0,1969.0 L402.5,1954.0 L411.2,1944.0 L416.2,1926.5 L420.0,1904.0 L426.2,1876.5 L435.0,1864.0 L440.0,1844.0 L445.0,1814.0 L450.0,1801.5 L456.2,1779.0 L461.2,1746.5 L467.5,1724.0 L473.8,1696.5 L480.0,1681.5 L486.2,1674.0 L490.0,1671.5 L496.2,1676.5 L500.0,1691.5 L503.8,1696.5 L510.0,1689.0 L515.0,1669.0 L520.0,1665.2 L526.2,1674.0 L531.2,1694.0 L535.0,1709.0 L541.2,1719.0 L547.5,1744.0 L551.2,1764.0 L558.8,1789.0 L565.0,1796.5 L570.0,1811.5 L573.8,1834.0 L577.5,1859.0 L582.5,1874.0 L587.5,1896.5 L592.5,1916.5 L600.0,1934.0 L607.5,1949.0 L616.2,1969.0 L621.2,1994.0 L627.5,2014.0 L635.0,2029.0 L645.0,2044.0 L655.0,2056.5 L665.0,2066.5 L675.0,2074.0 L687.5,2080.2 L702.5,2084.0 L720.0,2086.5 L745.0,2088.2 L782.5,2090.5 L782.5,2091.5Z" fill="#cbcbcb"/>
<path d="M378.5,2091.5 L380.0,1999.0 L385.0,2021.5 L390.0,2046.5 L395.0,2059.0 L401.2,2062.8 L407.5,2061.0 L412.5,2057.8 L426.2,2057.0 L431.2,2051.0 L438.0,2037.0 L445.0,2022.0 L455.0,2016.5 L465.0,2006.5 L475.0,1996.5 L485.0,1990.2 L495.0,1979.0 L505.0,1966.5 L515.0,1954.0 L520.0,1934.0 L525.0,1924.0 L532.5,1916.5 L540.0,1911.5 L546.2,1896.5 L551.2,1887.8 L557.5,1884.0 L562.5,1889.0 L570.0,1894.0 L575.0,1887.8 L580.0,1869.0 L583.8,1862.8 L590.0,1864.0 L596.2,1855.2 L602.5,1854.0 L608.8,1866.5 L616.2,1876.5 L621.2,1870.2 L626.2,1852.8 L632.5,1849.0 L637.5,1866.5 L643.8,1875.2 L650.0,1871.5 L655.0,1865.2 L661.2,1870.2 L667.5,1879.0 L675.0,1887.8 L682.5,1892.8 L690.0,1884.0 L695.0,1876.5 L701.2,1889.0 L707.5,1901.5 L715.0,1911.5 L722.5,1924.0 L727.5,1927.8 L733.8,1922.8 L740.0,1931.5 L750.0,1944.0 L760.0,1959.0 L767.5,1971.5 L778.8,1965.0 L785.0,1976.2 L795.0,1990.0 L805.0,1997.5 L816.2,2001.2 L825.0,2012.5 L836.2,2022.5 L850.0,2023.8 L857.5,2031.2 L867.5,2038.8 L878.8,2039.5 L890.0,2046.2 L906.2,2051.2 L916.2,2058.8 L930.0,2068.0 L940.0,2068.8 L955.0,2076.2 L970.0,2083.8 L982.5,2087.5 L1012.5,2088.0 L1017.5,2090.8 L1057.5,2091.0 L1057.5,2091.5Z" fill="#686868"/>
<path d="M378.5,2091.5 L380.5,1714.0 L383.8,1809.0 L388.8,1921.5 L395.0,1969.0 L402.5,1954.0 L411.2,1944.0 L416.2,1926.5 L420.0,1904.0 L426.2,1876.5 L435.0,1864.0 L440.0,1844.0 L445.0,1814.0 L450.0,1801.5 L456.2,1779.0 L461.2,1746.5 L467.5,1724.0 L473.8,1696.5 L480.0,1681.5 L486.2,1674.0 L490.0,1671.5 L496.2,1676.5 L500.0,1691.5 L503.8,1696.5 L510.0,1689.0 L515.0,1669.0 L520.0,1665.2 L526.2,1674.0 L531.2,1694.0 L535.0,1709.0 L541.2,1719.0 L547.5,1744.0 L551.2,1764.0 L558.8,1789.0 L565.0,1796.5 L570.0,1811.5 L573.8,1834.0 L577.5,1859.0 L582.5,1874.0 L587.5,1896.5 L592.5,1916.5 L600.0,1934.0 L607.5,1949.0 L616.2,1969.0 L621.2,1994.0 L627.5,2014.0 L635.0,2029.0 L645.0,2044.0 L655.0,2056.5 L665.0,2066.5 L675.0,2074.0 L687.5,2080.2 L702.5,2084.0 L720.0,2086.5 L745.0,2088.2 L782.5,2090.5 L782.5,2091.5Z" fill="#555" clip-path="url(#clipd-bb)"/>
<clipPath id="clipu-bb"><path d="M378.5,2091.5 L380.0,1999.0 L385.0,2021.5 L390.0,2046.5 L395.0,2059.0 L401.2,2062.8 L407.5,2061.0 L412.5,2057.8 L426.2,2057.0 L431.2,2051.0 L438.0,2037.0 L445.0,2022.0 L455.0,2016.5 L465.0,2006.5 L475.0,1996.5 L485.0,1990.2 L495.0,1979.0 L505.0,1966.5 L515.0,1954.0 L520.0,1934.0 L525.0,1924.0 L532.5,1916.5 L540.0,1911.5 L546.2,1896.5 L551.2,1887.8 L557.5,1884.0 L562.5,1889.0 L570.0,1894.0 L575.0,1887.8 L580.0,1869.0 L583.8,1862.8 L590.0,1864.0 L596.2,1855.2 L602.5,1854.0 L608.8,1866.5 L616.2,1876.5 L621.2,1870.2 L626.2,1852.8 L632.5,1849.0 L637.5,1866.5 L643.8,1875.2 L650.0,1871.5 L655.0,1865.2 L661.2,1870.2 L667.5,1879.0 L675.0,1887.8 L682.5,1892.8 L690.0,1884.0 L695.0,1876.5 L701.2,1889.0 L707.5,1901.5 L715.0,1911.5 L722.5,1924.0 L727.5,1927.8 L733.8,1922.8 L740.0,1931.5 L750.0,1944.0 L760.0,1959.0 L767.5,1971.5 L778.8,1965.0 L785.0,1976.2 L795.0,1990.0 L805.0,1997.5 L816.2,2001.2 L825.0,2012.5 L836.2,2022.5 L850.0,2023.8 L857.5,2031.2 L867.5,2038.8 L878.8,2039.5 L890.0,2046.2 L906.2,2051.2 L916.2,2058.8 L930.0,2068.0 L940.0,2068.8 L955.0,2076.2 L970.0,2083.8 L982.5,2087.5 L1012.5,2088.0 L1017.5,2090.8 L1057.5,2091.0 L1057.5,2091.5Z"/><path d="M378.5,2091.5 L380.5,1714.0 L383.8,1809.0 L388.8,1921.5 L395.0,1969.0 L402.5,1954.0 L411.2,1944.0 L416.2,1926.5 L420.0,1904.0 L426.2,1876.5 L435.0,1864.0 L440.0,1844.0 L445.0,1814.0 L450.0,1801.5 L456.2,1779.0 L461.2,1746.5 L467.5,1724.0 L473.8,1696.5 L480.0,1681.5 L486.2,1674.0 L490.0,1671.5 L496.2,1676.5 L500.0,1691.5 L503.8,1696.5 L510.0,1689.0 L515.0,1669.0 L520.0,1665.2 L526.2,1674.0 L531.2,1694.0 L535.0,1709.0 L541.2,1719.0 L547.5,1744.0 L551.2,1764.0 L558.8,1789.0 L565.0,1796.5 L570.0,1811.5 L573.8,1834.0 L577.5,1859.0 L582.5,1874.0 L587.5,1896.5 L592.5,1916.5 L600.0,1934.0 L607.5,1949.0 L616.2,1969.0 L621.2,1994.0 L627.5,2014.0 L635.0,2029.0 L645.0,2044.0 L655.0,2056.5 L665.0,2066.5 L675.0,2074.0 L687.5,2080.2 L702.5,2084.0 L720.0,2086.5 L745.0,2088.2 L782.5,2090.5 L782.5,2091.5Z"/></clipPath>
<path d="M380.5,1599.0 L388.0,1599.0 L389.5,1659.0 L390.5,1721.5 L392.5,1784.0 L396.2,1845.2 L400.0,1809.0 L403.8,1779.0 L408.8,1769.0 L415.0,1761.5 L420.0,1744.0 L426.2,1724.0 L432.5,1721.5 L438.8,1714.0 L442.5,1699.0 L446.2,1681.5 L456.2,1679.0 L460.0,1659.0 L463.8,1639.0 L470.0,1617.8 L475.0,1626.5 L483.8,1646.5 L487.5,1664.0 L490.0,1689.0 L495.0,1719.0 L500.0,1741.5 L507.5,1761.5 L513.8,1784.0 L520.0,1819.0 L526.2,1841.5 L531.2,1866.5 L535.0,1896.5 L540.0,1924.0 L545.0,1951.5 L552.5,1974.0 L562.5,1996.5 L570.0,2014.0 L577.5,2034.0 L585.0,2049.0 L595.0,2059.0 L605.0,2065.2 L617.5,2069.0 L630.0,2074.0 L645.0,2077.8 L657.5,2080.2 L677.5,2081.5" fill="none" stroke="#555" stroke-width="3.2" stroke-linejoin="round"/>
<path d="M380.5,1599.0 L388.0,1599.0 L389.5,1659.0 L390.5,1721.5 L392.5,1784.0 L396.2,1845.2 L400.0,1809.0 L403.8,1779.0 L408.8,1769.0 L415.0,1761.5 L420.0,1744.0 L426.2,1724.0 L432.5,1721.5 L438.8,1714.0 L442.5,1699.0 L446.2,1681.5 L456.2,1679.0 L460.0,1659.0 L463.8,1639.0 L470.0,1617.8 L475.0,1626.5 L483.8,1646.5 L487.5,1664.0 L490.0,1689.0 L495.0,1719.0 L500.0,1741.5 L507.5,1761.5 L513.8,1784.0 L520.0,1819.0 L526.2,1841.5 L531.2,1866.5 L535.0,1896.5 L540.0,1924.0 L545.0,1951.5 L552.5,1974.0 L562.5,1996.5 L570.0,2014.0 L577.5,2034.0 L585.0,2049.0 L595.0,2059.0 L605.0,2065.2 L617.5,2069.0 L630.0,2074.0 L645.0,2077.8 L657.5,2080.2 L677.5,2081.5" fill="none" stroke="#111" stroke-width="2.8" stroke-linejoin="round" clip-path="url(#clipu-bb)"/>
<path d="M380.0,1999.0 L385.0,2021.5 L390.0,2046.5 L395.0,2059.0 L401.2,2062.8 L407.5,2061.0 L412.5,2057.8 L426.2,2057.0 L431.2,2051.0 L438.0,2037.0 L445.0,2022.0 L455.0,2016.5 L465.0,2006.5 L475.0,1996.5 L485.0,1990.2 L495.0,1979.0 L505.0,1966.5 L515.0,1954.0 L520.0,1934.0 L525.0,1924.0 L532.5,1916.5 L540.0,1911.5 L546.2,1896.5 L551.2,1887.8 L557.5,1884.0 L562.5,1889.0 L570.0,1894.0 L575.0,1887.8 L580.0,1869.0 L583.8,1862.8 L590.0,1864.0 L596.2,1855.2 L602.5,1854.0 L608.8,1866.5 L616.2,1876.5 L621.2,1870.2 L626.2,1852.8 L632.5,1849.0 L637.5,1866.5 L643.8,1875.2 L650.0,1871.5 L655.0,1865.2 L661.2,1870.2 L667.5,1879.0 L675.0,1887.8 L682.5,1892.8 L690.0,1884.0 L695.0,1876.5 L701.2,1889.0 L707.5,1901.5 L715.0,1911.5 L722.5,1924.0 L727.5,1927.8 L733.8,1922.8 L740.0,1931.5 L750.0,1944.0 L760.0,1959.0 L767.5,1971.5 L778.8,1965.0 L785.0,1976.2 L795.0,1990.0 L805.0,1997.5 L816.2,2001.2 L825.0,2012.5 L836.2,2022.5 L850.0,2023.8 L857.5,2031.2 L867.5,2038.8 L878.8,2039.5 L890.0,2046.2 L906.2,2051.2 L916.2,2058.8 L930.0,2068.0 L940.0,2068.8 L955.0,2076.2 L970.0,2083.8 L982.5,2087.5 L1012.5,2088.0 L1017.5,2090.8 L1057.5,2091.0" fill="none" stroke="#000" stroke-width="3.6" stroke-linejoin="round"/>
<path d="M380.5,1714.0 L383.8,1809.0 L388.8,1921.5 L395.0,1969.0 L402.5,1954.0 L411.2,1944.0 L416.2,1926.5 L420.0,1904.0 L426.2,1876.5 L435.0,1864.0 L440.0,1844.0 L445.0,1814.0 L450.0,1801.5 L456.2,1779.0 L461.2,1746.5 L467.5,1724.0 L473.8,1696.5 L480.0,1681.5 L486.2,1674.0 L490.0,1671.5 L496.2,1676.5 L500.0,1691.5 L503.8,1696.5 L510.0,1689.0 L515.0,1669.0 L520.0,1665.2 L526.2,1674.0 L531.2,1694.0 L535.0,1709.0 L541.2,1719.0 L547.5,1744.0 L551.2,1764.0 L558.8,1789.0 L565.0,1796.5 L570.0,1811.5 L573.8,1834.0 L577.5,1859.0 L582.5,1874.0 L587.5,1896.5 L592.5,1916.5 L600.0,1934.0 L607.5,1949.0 L616.2,1969.0 L621.2,1994.0 L627.5,2014.0 L635.0,2029.0 L645.0,2044.0 L655.0,2056.5 L665.0,2066.5 L675.0,2074.0 L687.5,2080.2 L702.5,2084.0 L720.0,2086.5 L745.0,2088.2 L782.5,2090.5" fill="none" stroke="#000" stroke-width="3.6" stroke-linejoin="round"/>
<path d="M380.0,1999.0 L385.0,2021.5 L390.0,2046.5 L395.0,2059.0 L401.2,2062.8" fill="none" stroke="#000" stroke-width="6.5" stroke-linejoin="round" stroke-linecap="round"/>
<path d="M412.0,2059.0 L418.0,2047.0 L424.5,2038.5 M443.0,2019.5 L446.0,2012.0 L454.5,2004.5 M466.2,1982.8 L480.0,1967.8 M488.8,1945.2 L498.8,1930.2 M513.8,1914.0 L522.5,1896.5 M532.5,1872.8 L542.5,1860.2 M558.8,1862.8 L570.0,1853.5 L573.8,1849.0 M577.5,1830.2 L585.0,1830.2 L590.0,1841.5 M602.5,1834.0 L618.8,1824.0 M630.0,1851.0 L635.5,1852.8 M662.5,1852.8 L672.5,1867.8 M680.0,1896.5 L692.5,1905.2 M710.0,1925.2 L722.5,1939.0 M737.5,1962.8 L750.0,1976.5 M762.5,1999.0 L772.5,2010.2 M800.0,2026.2 L810.0,2035.0 L822.5,2036.2 M848.8,2047.5 L870.0,2060.0 M898.8,2063.8 L917.5,2075.0 M948.8,2083.8 L967.5,2090.0" fill="none" stroke="#000" stroke-width="4.2" stroke-linejoin="round"/>
</g>
<path d="M1281,2091 L1290,2086 L1296,2078 L1304.5,2076.5 V2091 Z" fill="#666" stroke="#000" stroke-width="3.4" stroke-linejoin="round"/><path d="M1017,2090 H1058 M1066,2090 H1148" stroke="#000" stroke-width="4"/>
<path d="M378.5,1580 H1305 V2091.5" fill="none" stroke="#484848" stroke-width="3.4"/>
<path d="M379.0,1579 V2112.5" fill="none" stroke="#000" stroke-width="5"/>
<path d="M355.5,2089.0 H378.5" fill="none" stroke="#000" stroke-width="4.5"/>
<path d="M378.5,2091.5 H1306" fill="none" stroke="#1a1a1a" stroke-width="3.8"/>
<path d="M367.5,2067.3 H378.5 M367.5,2046.1 H378.5 M367.5,2024.9 H378.5 M367.5,2003.7 H378.5 M367.5,1961.3 H378.5 M367.5,1940.1 H378.5 M367.5,1918.9 H378.5 M367.5,1897.7 H378.5 M367.5,1855.3 H378.5 M367.5,1834.1 H378.5 M367.5,1812.9 H378.5 M367.5,1791.7 H378.5 M367.5,1749.3 H378.5 M367.5,1728.1 H378.5 M367.5,1706.9 H378.5 M367.5,1685.7 H378.5 M367.5,1643.3 H378.5 M367.5,1622.1 H378.5 M367.5,1600.9 H378.5 " stroke="#222" stroke-width="3" fill="none"/>
<path d="M355.5,1982.5 H378.5 M355.5,1876.5 H378.5 M355.5,1770.5 H378.5 M355.5,1664.5 H378.5 " stroke="#000" stroke-width="4.5" fill="none"/>
<path d="M368.5,1580 H378.5" stroke="#111" stroke-width="2.6" fill="none"/>
<text x="342" y="2089.0" font-size="29.5" text-anchor="end" textLength="14.5" lengthAdjust="spacingAndGlyphs" fill="#3a3a3a" stroke="#3a3a3a" stroke-width="1.5">0</text>
<text x="342" y="1994.8" font-size="29.5" text-anchor="end" textLength="29" lengthAdjust="spacingAndGlyphs" fill="#3a3a3a" stroke="#3a3a3a" stroke-width="1.5">50</text>
<text x="342" y="1888.8" font-size="29.5" text-anchor="end" textLength="44" lengthAdjust="spacingAndGlyphs" fill="#3a3a3a" stroke="#3a3a3a" stroke-width="1.5">100</text>
<text x="342" y="1782.8" font-size="29.5" text-anchor="end" textLength="44" lengthAdjust="spacingAndGlyphs" fill="#3a3a3a" stroke="#3a3a3a" stroke-width="1.5">150</text>
<text x="342" y="1676.8" font-size="29.5" text-anchor="end" textLength="44" lengthAdjust="spacingAndGlyphs" fill="#3a3a3a" stroke="#3a3a3a" stroke-width="1.5">200</text>
<path d="M470.6,2091.5 V2104.0 M524.5,2091.5 V2104.0 M562.7,2091.5 V2104.0 M592.4,2091.5 V2104.0 M616.6,2091.5 V2104.0 M637.1,2091.5 V2104.0 M654.8,2091.5 V2104.0 M670.5,2091.5 V2104.0 M776.8,2091.5 V2104.0 M830.7,2091.5 V2104.0 M869.0,2091.5 V2104.0 M898.7,2091.5 V2104.0 M923.0,2091.5 V2104.0 M943.5,2091.5 V2104.0 M961.3,2091.5 V2104.0 M977.0,2091.5 V2104.0 M1084.2,2091.5 V2104.0 M1138.7,2091.5 V2104.0 M1177.3,2091.5 V2104.0 M1207.3,2091.5 V2104.0 M1231.8,2091.5 V2104.0 M1252.6,2091.5 V2104.0 M1270.5,2091.5 V2104.0 M1286.3,2091.5 V2104.0 " stroke="#333" stroke-width="3" fill="none"/>
<path d="M684.5,2091.5 V2113.0 M991.0,2091.5 V2113.0 M1300.5,2091.5 V2113.0 " stroke="#000" stroke-width="5" fill="none"/>
<g transform="translate(391.5,2160.0)" fill="#3a3a3a" stroke="#3a3a3a" stroke-width="1.4"><text x="0" y="0" font-size="30" textLength="26" lengthAdjust="spacingAndGlyphs">10</text><text x="26.5" y="-18.5" font-size="30" textLength="14.5" lengthAdjust="spacingAndGlyphs">0</text></g>
<g transform="translate(687.0,2160.0)" fill="#3a3a3a" stroke="#3a3a3a" stroke-width="1.4"><text x="0" y="0" font-size="30" textLength="26" lengthAdjust="spacingAndGlyphs">10</text><text x="26.5" y="-18.5" font-size="30" textLength="14.5" lengthAdjust="spacingAndGlyphs">1</text></g>
<g transform="translate(993.5,2160.0)" fill="#3a3a3a" stroke="#3a3a3a" stroke-width="1.4"><text x="0" y="0" font-size="30" textLength="26" lengthAdjust="spacingAndGlyphs">10</text><text x="26.5" y="-18.5" font-size="30" textLength="14.5" lengthAdjust="spacingAndGlyphs">2</text></g>
<g transform="translate(1260.0,2160.0)" fill="#3a3a3a" stroke="#3a3a3a" stroke-width="1.4"><text x="0" y="0" font-size="30" textLength="26" lengthAdjust="spacingAndGlyphs">10</text><text x="26.5" y="-18.5" font-size="30" textLength="14.5" lengthAdjust="spacingAndGlyphs">3</text></g>
</g>
<text y="134" fill="#111"><tspan x="35.5" font-size="99" textLength="51" lengthAdjust="spacingAndGlyphs">a</tspan><tspan x="95" font-size="102">)</tspan></text>
<text y="1015.5" fill="#111"><tspan x="19.5" font-size="99">b</tspan><tspan x="80.5" font-size="100">)</tspan></text>
<text transform="translate(247.2,514) rotate(-90)" font-size="57" fill="#111" textLength="392.5" lengthAdjust="spacingAndGlyphs">EOD1PM count</text>
<text transform="translate(247.2,1775.3) rotate(-90)" font-size="57" fill="#111" textLength="390.5" lengthAdjust="spacingAndGlyphs">EOD1PM count</text>
<path d="M383,652.5 H1380 V638.4 L1408.5,665.8 L1380,693.2 V679 H383 Z" fill="#000"/>
<path d="M383,2196 H1380 V2182.6 L1408.5,2209.8999999999996 L1380,2237.2 V2222 H383 Z" fill="#000"/>
<text x="871.4" y="763.3" font-size="57" fill="#111" textLength="483.3" lengthAdjust="spacingAndGlyphs">human IgG binding</text>
<text x="871.4" y="2308.2" font-size="57" fill="#111" textLength="483.3" lengthAdjust="spacingAndGlyphs">human IgG binding</text>
<rect x="1435.0" y="91.5" width="61.0" height="62.0" fill="#fff" stroke="#5e5e5e" stroke-width="7"/>
<rect x="1436.8" y="194.0" width="61.5" height="59.0" fill="#a6a6a6" stroke="#0a0a0a" stroke-width="7"/>
<rect x="1436.5" y="294.0" width="62.0" height="61.0" fill="#3d3a39" stroke="#0a0a0a" stroke-width="7"/>
<text x="1530.1" y="138.6" font-size="56" fill="#111" textLength="379.8" lengthAdjust="spacingAndGlyphs">Buffer (control)</text>
<text x="1530.5" y="241.4" font-size="57" fill="#111" text-anchor="start">Poly N (</text>
<text x="1763.5" y="241.4" font-size="60" fill="#5a5a5a" text-anchor="middle">×</text>
<text x="1790.5" y="241.4" font-size="57" fill="#111" text-anchor="start">2500)</text>
<text x="1529.5" y="346.8" font-size="57" fill="#111" text-anchor="start">Poly N (</text>
<text x="1761.2" y="346.8" font-size="60" fill="#5a5a5a" text-anchor="middle">×</text>
<text x="1805.5" y="346.8" font-size="57" fill="#111" text-anchor="start">500)</text>
<rect x="1438.0" y="970.2" width="62.0" height="62.5" fill="#fff" stroke="#5e5e5e" stroke-width="7"/>
<rect x="1438.0" y="1094.7" width="63.0" height="59.5" fill="#3d3a39" stroke="#0a0a0a" stroke-width="7"/>
<rect x="1436.8" y="1220.3" width="62.5" height="62.0" fill="#a6a6a6" stroke="#0a0a0a" stroke-width="7"/>
<text x="1533.6" y="1021.5" font-size="56" fill="#111" textLength="380.4" lengthAdjust="spacingAndGlyphs">Buffer (control)</text>
<text x="1532.8" y="1147.5" font-size="56" fill="#111" textLength="364.9" lengthAdjust="spacingAndGlyphs">Poly N+ Buffer</text>
<text x="1531.0" y="1274.6" font-size="56" fill="#111" textLength="499.0" lengthAdjust="spacingAndGlyphs">Poly N+ sEOD1 PM</text>
<rect x="1435.0" y="1598.7" width="61.0" height="61.2" fill="#fff" stroke="#5e5e5e" stroke-width="7"/>
<rect x="1436.8" y="1721.0" width="59.0" height="59.7" fill="#3d3a39" stroke="#0a0a0a" stroke-width="7"/>
<rect x="1432.4" y="1848.4" width="61.5" height="60.8" fill="#888" stroke="#0a0a0a" stroke-width="7"/>
<text x="1529.9" y="1648.9" font-size="56" fill="#111" textLength="380.0" lengthAdjust="spacingAndGlyphs">Buffer (control)</text>
<text x="1529.9" y="1774.9" font-size="56" fill="#111" textLength="365.2" lengthAdjust="spacingAndGlyphs">Poly N+ Buffer</text>
<text x="1526.5" y="1901.6" font-size="56" fill="#111" textLength="377.5" lengthAdjust="spacingAndGlyphs">Poly N+ CSBG</text>
<text x="1528.0" y="2027.6" font-size="56" fill="#111" textLength="330.3" lengthAdjust="spacingAndGlyphs">Poly N+ OVA</text>
<path d="M1437.2,1981.5 V1974.8 H1462.2 M1486.4,1974.8 H1495.7 V1997.9 M1437.2,2005.6 V2036.7 H1456.2 M1495.7,2020.3 V2036.7 H1480.3" fill="none" stroke="#000" stroke-width="7.5"/>
</svg></body></html>
